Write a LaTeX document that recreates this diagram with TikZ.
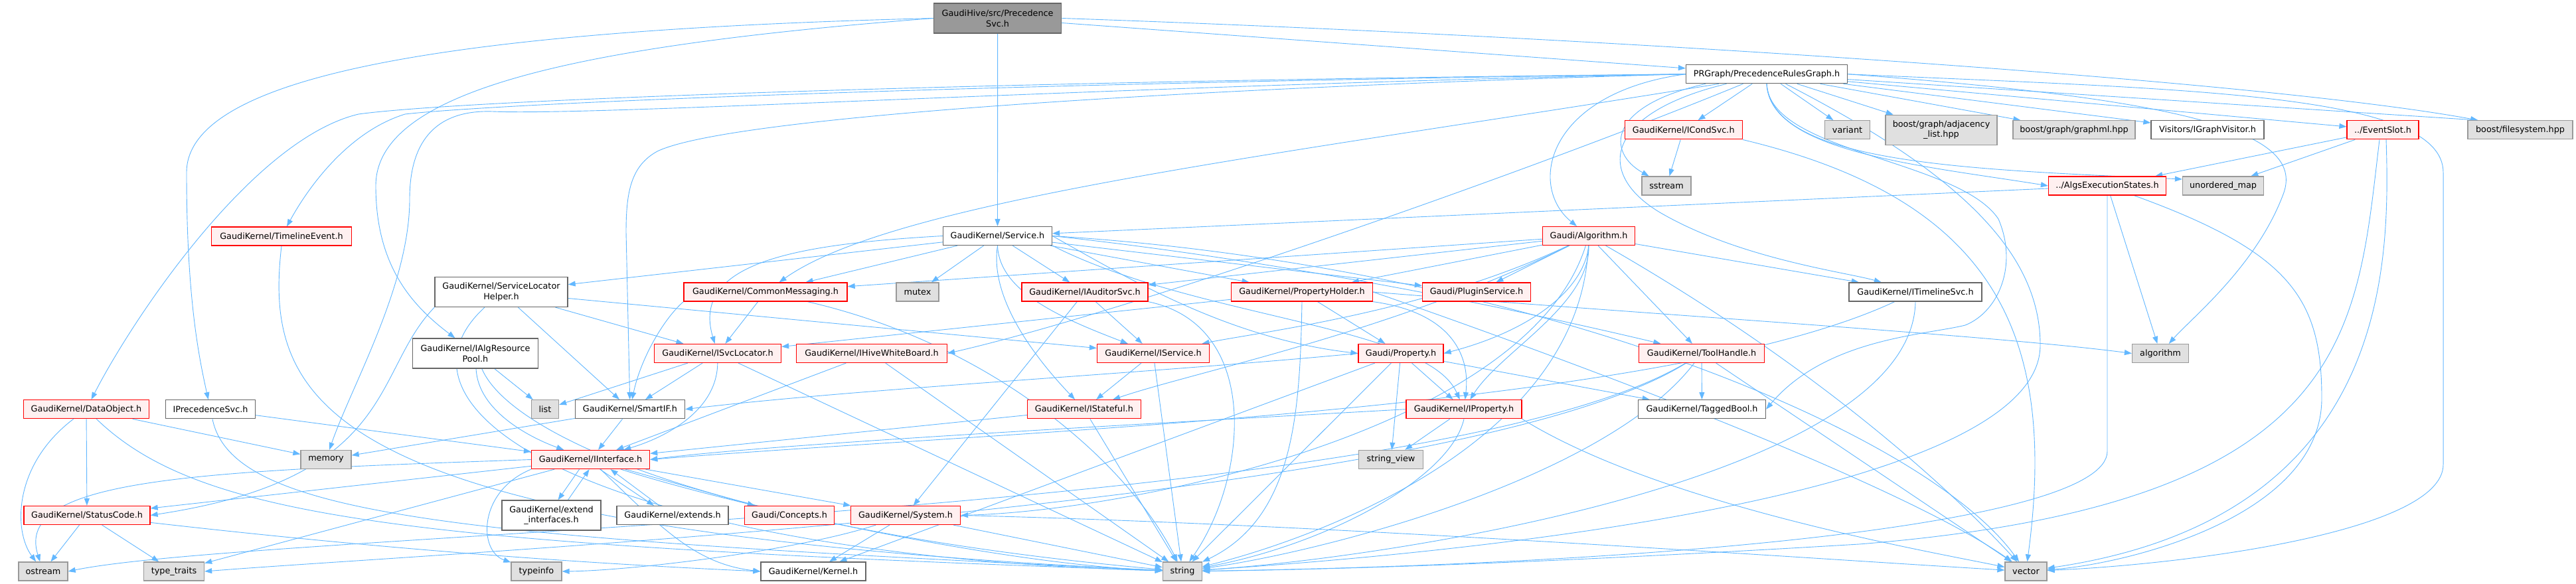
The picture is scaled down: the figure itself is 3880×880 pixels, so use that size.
\documentclass[tikz,border=0pt]{standalone}
\usepackage{fontspec}
\newfontfamily\dvs{DejaVu Sans}
\usetikzlibrary{arrows.meta}
\pgfdeclarelayer{bg}
\pgfsetlayers{bg,main}
\definecolor{edgec}{HTML}{63B8FF}
\definecolor{redfill}{HTML}{FFF0F0}
\definecolor{redline}{HTML}{FF0000}
\definecolor{greyfill}{HTML}{E0E0E0}
\definecolor{greyline}{HTML}{999999}
\definecolor{wline}{HTML}{666666}
\definecolor{rootfill}{HTML}{999999}
\begin{document}
\begin{tikzpicture}[x=1pt,y=-1pt,
  box/.style={draw, line width=1.3pt, inner sep=0pt, minimum height=28pt, align=center, font=\dvs\fontsize{12.8}{15.5}\selectfont},
  rbox/.style={box, draw=redline, fill=redfill},
  gbox/.style={box, draw=greyline, fill=greyfill},
  wbox/.style={box, draw=wline, fill=white},
  rootbox/.style={box, draw=wline, fill=rootfill},
  dep/.style={draw=edgec, line width=0.9pt, -{Triangle[length=11pt,width=8pt]}}]
\useasboundingbox (0,0) rectangle (3880,880);
% nodes
\node[rootbox, minimum width=192pt, minimum height=45pt] (PS) at (1502.6,27.5) {GaudiHive/src/Precedence\\Svc.h};
\node[wbox, minimum width=243pt] (PRG) at (2661,111.7) {PRGraph/PrecedenceRulesGraph.h};
\node[wbox, minimum width=164pt] (Service) at (1502.5,355.5) {GaudiKernel/Service.h};
\node[rbox, minimum width=177pt] (ICondSvc) at (2535.7,195.8) {GaudiKernel/ICondSvc.h};
\node[gbox, minimum width=68pt] (variant) at (2782.5,195.8) {variant};
\node[gbox, minimum width=168pt, minimum height=45pt] (adj) at (2924,195.8) {boost/graph/adjacency\\\_list.hpp};
\node[gbox, minimum width=184pt] (graphml) at (3124,195.8) {boost/graph/graphml.hpp};
\node[wbox, minimum width=170pt] (IGV) at (3325,195.8) {Visitors/IGraphVisitor.h};
\node[rbox, minimum width=108pt] (EventSlot) at (3589,195.8) {../EventSlot.h};
\node[gbox, minimum width=158pt] (fs) at (3796,195.8) {boost/filesystem.hpp};
\node[gbox, minimum width=74pt] (sstream) at (2510,280) {sstream};
\node[rbox, minimum width=177pt] (AES) at (3174,280) {../AlgsExecutionStates.h};
\node[gbox, minimum width=122pt] (umap) at (3348.5,280) {unordered\_map};
\node[rbox, minimum width=211pt] (TE) at (424,356) {GaudiKernel/TimelineEvent.h};
\node[wbox, minimum width=200pt, minimum height=45pt] (SLH) at (755,440) {GaudiKernel/ServiceLocator\\Helper.h};
\node[rbox, minimum width=139pt] (Alg) at (2393,355.5) {Gaudi/Algorithm.h};
\node[rbox, minimum width=246pt] (CM) at (1153,440) {GaudiKernel/CommonMessaging.h};
\node[gbox, minimum width=64pt] (mutex) at (1382,440) {mutex};
\node[rbox, minimum width=190pt] (IAud) at (1634,440) {GaudiKernel/IAuditorSvc.h};
\node[rbox, minimum width=213pt] (PH) at (1961,440) {GaudiKernel/PropertyHolder.h};
\node[rbox, minimum width=163pt] (PlS) at (2224,440) {Gaudi/PluginService.h};
\node[wbox, minimum width=200pt] (ITS) at (2885,440) {GaudiKernel/ITimelineSvc.h};
\node[wbox, minimum width=189pt, minimum height=45pt] (IARP) at (716,532.5) {GaudiKernel/IAlgResource\\Pool.h};
\node[rbox, minimum width=191pt] (ISL) at (1081,532.5) {GaudiKernel/ISvcLocator.h};
\node[rbox, minimum width=227pt] (IHWB) at (1313,532.5) {GaudiKernel/IHiveWhiteBoard.h};
\node[rbox, minimum width=169pt] (ISvc) at (1737,532.5) {GaudiKernel/IService.h};
\node[rbox, minimum width=128pt] (Prop) at (2110,532.5) {Gaudi/Property.h};
\node[rbox, minimum width=189pt] (TH) at (2563,532.5) {GaudiKernel/ToolHandle.h};
\node[gbox, minimum width=85pt] (algo) at (3254,532.5) {algorithm};
\node[rbox, minimum width=189pt] (DO) at (130,616.7) {GaudiKernel/DataObject.h};
\node[wbox, minimum width=135pt] (IPS) at (317,616.7) {IPrecedenceSvc.h};
\node[gbox, minimum width=41pt] (list) at (821,616.7) {list};
\node[wbox, minimum width=165pt] (SIF) at (949,616.7) {GaudiKernel/SmartIF.h};
\node[rbox, minimum width=171pt] (IStf) at (1633,616.7) {GaudiKernel/IStateful.h};
\node[rbox, minimum width=174pt] (IProp) at (2205,616.7) {GaudiKernel/IProperty.h};
\node[wbox, minimum width=192pt] (TB) at (2563.5,616.7) {GaudiKernel/TaggedBool.h};
\node[gbox, minimum width=76pt] (memory) at (491,692.5) {memory};
\node[rbox, minimum width=178pt] (IInt) at (889.6,692.5) {GaudiKernel/IInterface.h};
\node[gbox, minimum width=97pt] (sv) at (2095,692.5) {string\_view};
\node[rbox, minimum width=190pt] (SC) at (131,776.5) {GaudiKernel/StatusCode.h};
\node[wbox, minimum width=149pt, minimum height=45pt] (EI) at (830.5,776.5) {GaudiKernel/extend\\\_interfaces.h};
\node[wbox, minimum width=168pt] (ext) at (1013,776.5) {GaudiKernel/extends.h};
\node[rbox, minimum width=135pt] (Conc) at (1189,776.5) {Gaudi/Concepts.h};
\node[rbox, minimum width=165pt] (Sys) at (1364,776.5) {GaudiKernel/System.h};
\node[gbox, minimum width=74pt] (ostream) at (65,861) {ostream};
\node[gbox, minimum width=91pt] (tt) at (262,861) {type\_traits};
\node[gbox, minimum width=76pt] (typeinfo) at (808,861) {typeinfo};
\node[wbox, minimum width=158pt] (Kernel) at (1225,861) {GaudiKernel/Kernel.h};
\node[gbox, minimum width=59pt] (string) at (1781,861) {string};
\node[gbox, minimum width=63pt] (vector) at (3051.5,861) {vector};
% edges
\begin{pgfonlayer}{bg}
\fill[white] (0,0) rectangle (3880,880);
% PS
\draw[dep] (PS) -- (PRG);
\draw[dep] (PS) -- (Service);
\draw[dep] (PS.east) .. controls (2400,55) and (3400,120) .. ([xshift=16pt]fs.north west);
\draw[dep] (PS.west) .. controls (700,45) and (281,110) .. (281,260) .. controls (281,450) and (300,540) .. (IPS);
\draw[dep] (PS.west) .. controls (850,70) and (566,140) .. (566,280) .. controls (566,400) and (620,460) .. (IARP);
% PRG
\draw[dep] (PRG.west) .. controls (1500,122) and (700,150) .. (540,172) .. controls (380,210) and (200,480) .. (DO);
\draw[dep] (PRG.west) .. controls (1500,125) and (760,155) .. (610,172) .. controls (520,200) and (460,290) .. (TE);
\draw[dep] (PRG.west) .. controls (1700,128) and (900,175) .. (742,168) .. controls (650,165) and (617,220) .. (617,300) .. controls (617,430) and (530,580) .. (memory);
\draw[dep] (PRG.west) .. controls (1800,132) and (1100,175) .. (990,228) .. controls (950,250) and (943,290) .. (943,350) -- (SIF);
\draw[dep] ([xshift=50pt]PRG.south west) .. controls (1940,232) and (1350,300) .. (CM);
\draw[dep] (PRG) .. controls (2300,260) and (1700,470) .. (IHWB.east);
\draw[dep] (PRG.west) .. controls (2330,140) and (2300,280) .. (Alg);
\draw[dep] (PRG) -- (ICondSvc);
\draw[dep] ([xshift=30pt]PRG.south west) .. controls (2420,160) and (2420,230) .. (sstream);
\draw[dep] (PRG) -- (variant);
\draw[dep] (PRG) -- (adj);
\draw[dep] (PRG) -- (graphml);
\draw[dep] (PRG) -- (IGV);
\draw[dep] (PRG) -- (EventSlot);
\draw[dep] (PRG) -- ([xshift=16pt]fs.north west);
\draw[dep] (PRG.south) .. controls (2665,230) and (2900,250) .. (AES.west);
\draw[dep] (PRG.south) .. controls (2670,245) and (2950,255) .. ([yshift=10pt]umap.west);
\draw[dep] (PRG.east) .. controls (3300,150) and (3470,200) .. (3440,290) .. controls (3400,400) and (3300,480) .. (algo);
\draw[dep] (PRG.east) .. controls (3300,135) and (3680,140) .. (3680,260) -- (3680,700) .. controls (3680,800) and (3300,850) .. (vector);
\draw[dep] (PRG.south) .. controls (2665,230) and (2950,240) .. (3010,330) .. controls (3040,400) and (3010,470) .. (2960,490) .. controls (2900,505) and (2750,510) .. (TB.east);
\draw[dep] (PRG) .. controls (2420,170) and (2400,260) .. (2500,320) .. controls (2620,390) and (2780,410) .. (ITS);
\draw[dep] (PRG) .. controls (2950,260) and (3073,380) .. (3073,520) .. controls (3073,720) and (2400,820) .. (string);
% Service
\draw[dep] (Service) -- (CM);
\draw[dep] (Service) -- (mutex);
\draw[dep] (Service) -- (IAud);
\draw[dep] (Service) -- (PH);
\draw[dep] (Service) -- (PlS);
\draw[dep] (Service.west) .. controls (1200,368) and (1040,395) .. (ISL);
\draw[dep] (Service.south) .. controls (1505,440) and (1600,480) .. (ISvc);
\draw[dep] (Service.south) .. controls (1490,450) and (1560,540) .. (IStf);
\draw[dep] (Service.east) .. controls (1700,420) and (1850,510) .. (Prop.west);
\draw[dep] (Service.south east) .. controls (1800,480) and (2150,490) .. (IProp);
\draw[dep] (Service) -- (SLH);
\draw[dep] (Service.east) .. controls (1950,395) and (2300,470) .. (TH);
\draw[dep] (Service.east) .. controls (2300,400) and (2900,650) .. (vector);
% Algorithm
\draw[dep] (Alg) -- (CM);
\draw[dep] (Alg) -- (IAud);
\draw[dep] (Alg) -- (PH);
\draw[dep] (Alg) -- (PlS);
\draw[dep] (Alg) -- (ITS);
\draw[dep] (Alg) .. controls (2150,470) and (1900,500) .. (ISvc);
\draw[dep] (Alg) .. controls (2100,500) and (1800,560) .. (IStf);
\draw[dep] (Alg.south) .. controls (2385,440) and (2300,500) .. (Prop.east);
\draw[dep] (Alg.south) .. controls (2395,460) and (2260,530) .. (IProp);
\draw[dep] (Alg) -- (TH);
\draw[dep] (Alg) .. controls (2300,650) and (1700,770) .. (Sys.east);
\draw[dep] (Alg) .. controls (2380,680) and (1950,820) .. (string);
\draw[dep] (Alg) .. controls (2750,560) and (2950,750) .. (vector);
% PropertyHolder
\draw[dep] (PH) -- (ISL);
\draw[dep] (PH) -- (Prop);
\draw[dep] (PH.south east) .. controls (2180,470) and (2215,530) .. (IProp);
\draw[dep] (PH.south) .. controls (1958,620) and (1950,780) .. (string);
\draw[dep] (PH.east) .. controls (2300,520) and (2850,720) .. (vector);
\draw[dep] (PH.east) .. controls (2500,475) and (3000,505) .. (algo.west);
% Property
\draw[dep] (Prop) -- (IProp);
\draw[dep] (Prop) -- (sv);
\draw[dep] (Prop) -- (TB);
\draw[dep] (Prop) -- (string);
\draw[dep] (Prop.west) .. controls (1700,565) and (1300,585) .. (SIF.east);
\draw[dep] (Prop) -- (Kernel);
% IProperty
\draw[dep] (IProp.west) .. controls (1700,640) and (1150,670) .. (IInt.east);
\draw[dep] (IProp) -- (sv);
\draw[dep] (IProp.south) .. controls (2185,720) and (2000,820) .. (string);
\draw[dep] (IProp.south east) .. controls (2500,760) and (2900,830) .. (vector);
% ToolHandle
\draw[dep] (TH) -- (TB);
\draw[dep] (TH) -- (vector);
\draw[dep] (TH) .. controls (2420,720) and (2000,830) .. (string);
\draw[dep] (TH) .. controls (2200,760) and (700,830) .. (tt.east);
\draw[dep] (TH) .. controls (2150,780) and (400,800) .. (ostream.east);
% IAuditorSvc
\draw[dep] (IAud) -- (Sys);
\draw[dep] (IAud) -- (ISvc);
\draw[dep] (IAud.south east) .. controls (1900,490) and (1880,720) .. (string);
% CommonMessaging
\draw[dep] (CM) -- (ISL);
\draw[dep] (CM.south west) .. controls (1000,480) and (965,540) .. (SIF);
\draw[dep] (CM) .. controls (1500,520) and (1700,700) .. (string);
% SLH
\draw[dep] (SLH) -- (ISL);
\draw[dep] (SLH) -- (SIF);
\draw[dep] (SLH) -- (ISvc);
\draw[dep] (SLH.south west) .. controls (560,560) and (600,720) .. (SC.east);
\draw[dep] (SLH) .. controls (560,620) and (900,835) .. (string);
% IAlgResourcePool
\draw[dep] (IARP) -- (list);
\draw[dep] (IARP) .. controls (720,620) and (800,660) .. (IInt);
\draw[dep] (IARP) .. controls (770,660) and (1100,800) .. (string);
% IPrecedenceSvc, TimelineEvent, DataObject
\draw[dep] (IPS) -- (IInt);
\draw[dep] (IPS) .. controls (350,780) and (700,810) .. (string);
\draw[dep] (TE.south) .. controls (395,620) and (500,800) .. (string);
\draw[dep] (DO) .. controls (20,700) and (20,800) .. (ostream);
\draw[dep] (DO) -- (SC);
\draw[dep] (DO) -- (memory);
\draw[dep] (DO) .. controls (300,780) and (600,820) .. (string);
% ISvcLocator etc.
\draw[dep] (ISL) -- (list);
\draw[dep] (ISL) -- (SIF);
\draw[dep] (ISL) .. controls (1080,620) and (1000,660) .. (IInt);
\draw[dep] (ISL) -- (string);
\draw[dep] (IHWB) -- (IInt);
\draw[dep] (IHWB) -- (string);
\draw[dep] (ISvc) -- (IStf);
\draw[dep] (ISvc) -- (string);
\draw[dep] (IStf) -- (IInt);
\draw[dep] (IStf) -- (string);
\draw[dep] (ITS) .. controls (2500,620) and (1500,650) .. (IInt.east);
\draw[dep] (ITS.south) .. controls (2880,720) and (2100,840) .. (string);
\draw[dep] (SIF) -- (IInt);
\draw[dep] (SIF) -- (memory);
% IInterface
\draw[dep] (IInt.west) .. controls (300,710) and (20,720) .. (ostream);
\draw[dep] (IInt) -- (SC);
\draw[dep] ([xshift=-17pt]IInt.south) -- ([xshift=10pt]EI.north);
\draw[dep] ([xshift=25pt]EI.north) -- ([xshift=-2pt]IInt.south);
\draw[dep] ([xshift=14pt]IInt.south) -- ([xshift=-28pt]ext.north);
\draw[dep] ([xshift=-20pt]ext.north) -- ([xshift=30pt]IInt.south);
\draw[dep] (IInt) -- (Conc);
\draw[dep] (IInt) -- (Sys);
\draw[dep] (IInt) -- (tt);
\draw[dep] (IInt.south west) .. controls (720,740) and (720,830) .. (typeinfo);
\draw[dep] (IInt) .. controls (1000,800) and (1050,850) .. (Kernel.west);
\draw[dep] (IInt) .. controls (1100,760) and (1500,850) .. (string);
% StatusCode, System
\draw[dep] (SC) -- (ostream);
\draw[dep] (SC) -- (tt);
\draw[dep] (SC) .. controls (600,830) and (900,850) .. (Kernel.west);
\draw[dep] (Sys) -- (Kernel);
\draw[dep] (Sys) -- (string);
\draw[dep] (Sys) .. controls (1200,830) and (950,860) .. (typeinfo.east);
\draw[dep] (Sys.east) .. controls (2000,790) and (2700,840) .. (vector);
% AES, EventSlot, ICondSvc
\draw[dep] (AES) -- (Service);
\draw[dep] (AES) -- (algo);
\draw[dep] (AES) .. controls (3450,380) and (3497,450) .. (3497,600) .. controls (3497,780) and (3200,850) .. (vector);
\draw[dep] (AES.south) -- (3174,680) .. controls (3174,790) and (2500,850) .. (string);
\draw[dep] (EventSlot) -- (AES);
\draw[dep] (EventSlot) -- (umap);
\draw[dep] ([xshift=5pt]EventSlot.south) .. controls (3600,400) and (3600,780) .. (vector);
\draw[dep] ([xshift=-5pt]EventSlot.south) .. controls (3549,500) and (3549,760) .. (2800,820) .. controls (2300,850) and (2000,858) .. (string);
\draw[dep] (ICondSvc) -- (sstream);
\draw[dep] (ICondSvc.south east) .. controls (3000,300) and (3100,500) .. (vector);
\end{pgfonlayer}
\end{tikzpicture}
\end{document}
